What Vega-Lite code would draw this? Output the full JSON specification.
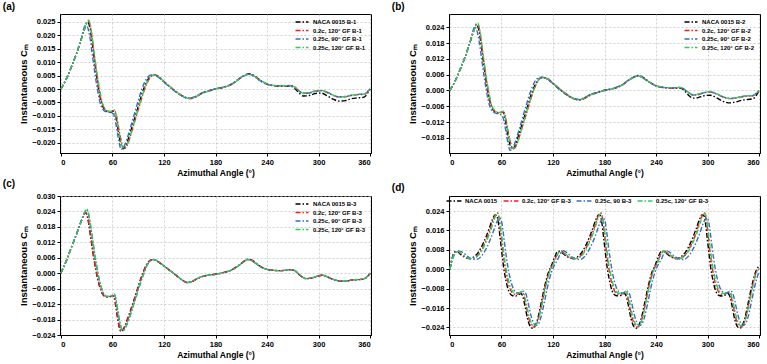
{
"$schema":"https://vega.github.io/schema/vega-lite/v6.json",
"background":"white",
"padding":{"left":2,"top":1,"right":0,"bottom":0},
"config":{
 "font":"Liberation Sans",
 "view":{"stroke":"#000","strokeWidth":1},
 "axis":{"labelFont":"Liberation Sans","labelFontSize":7.5,"labelFontWeight":"bold","labelColor":"#000","titleFont":"Liberation Sans","titleFontSize":8.5,"titleFontWeight":"bold","titleColor":"#000","domainColor":"#000","tickColor":"#000","tickSize":3,"gridColor":"#bdbdbd","gridDash":[2,2],"gridWidth":0.7,"labelPadding":2,"titlePadding":3},
 "axisY":{"titleFontSize":9.5,"titlePadding":3},
 "title":{"anchor":"start","frame":"bounds","fontSize":10,"fontWeight":"bold","color":"#000","font":"Liberation Sans"},
 "line":{"strokeWidth":1.4,"strokeDash":[5,2,1.5,2],"interpolate":"monotone","clip":true},
 "legend":{"title":null,"padding":0,"symbolType":"M-2,0H2","symbolSize":42,"symbolStrokeWidth":1.5,"symbolDash":[4,1.5,1.5,1.5],"labelFont":"Liberation Sans","labelFontSize":6,"labelFontWeight":"bold","labelColor":"#000","labelOffset":7,"rowPadding":1.5}
},
"datasets":{
"a":[
{"s":"k","x":0,"y":0},{"s":"k","x":6,"y":0.0035},{"s":"k","x":12,"y":0.008},{"s":"k","x":18,"y":0.013},{"s":"k","x":24,"y":0.0188},{"s":"k","x":28,"y":0.0228},{"s":"k","x":31,"y":0.025},{"s":"k","x":34,"y":0.0225},{"s":"k","x":37,"y":0.0158},{"s":"k","x":40,"y":0.0086},{"s":"k","x":43,"y":0.0018},{"s":"k","x":46,"y":-0.0035},{"s":"k","x":50,"y":-0.0072},{"s":"k","x":54,"y":-0.0084},{"s":"k","x":58,"y":-0.0086},{"s":"k","x":61,"y":-0.0082},{"s":"k","x":63,"y":-0.0088},{"s":"k","x":65,"y":-0.012},{"s":"k","x":68,"y":-0.0178},{"s":"k","x":71,"y":-0.0215},{"s":"k","x":73,"y":-0.0222},{"s":"k","x":76,"y":-0.0208},{"s":"k","x":80,"y":-0.017},{"s":"k","x":85,"y":-0.0118},{"s":"k","x":90,"y":-0.0066},{"s":"k","x":95,"y":-0.0012},{"s":"k","x":100,"y":0.0028},{"s":"k","x":104,"y":0.0047},{"s":"k","x":108,"y":0.0053},{"s":"k","x":113,"y":0.0047},{"s":"k","x":120,"y":0.0027},{"s":"k","x":128,"y":0.0005},{"s":"k","x":136,"y":-0.0015},{"s":"k","x":144,"y":-0.003},{"s":"k","x":150,"y":-0.0035},{"s":"k","x":156,"y":-0.003},{"s":"k","x":163,"y":-0.0017},{"s":"k","x":172,"y":-0.0007},{"s":"k","x":180,"y":0},{"s":"k","x":190,"y":0.0007},{"s":"k","x":200,"y":0.002},{"s":"k","x":208,"y":0.0039},{"s":"k","x":214,"y":0.0051},{"s":"k","x":219,"y":0.0057},{"s":"k","x":224,"y":0.0052},{"s":"k","x":231,"y":0.0035},{"s":"k","x":240,"y":0.0018},{"s":"k","x":250,"y":0.0012},{"s":"k","x":260,"y":0.001},{"s":"k","x":267,"y":0.0011},{"s":"k","x":272,"y":0.0003},{"s":"k","x":277,"y":-0.0014},{"s":"k","x":282,"y":-0.0026},{"s":"k","x":288,"y":-0.0025},{"s":"k","x":296,"y":-0.0017},{"s":"k","x":303,"y":-0.0015},{"s":"k","x":310,"y":-0.0025},{"s":"k","x":317,"y":-0.0038},{"s":"k","x":324,"y":-0.0045},{"s":"k","x":331,"y":-0.0043},{"s":"k","x":338,"y":-0.0036},{"s":"k","x":346,"y":-0.0033},{"s":"k","x":353,"y":-0.003},{"s":"k","x":357,"y":-0.0016},{"s":"k","x":360,"y":0},
{"s":"r","x":0,"y":0},{"s":"r","x":6,"y":0.0035},{"s":"r","x":12,"y":0.008},{"s":"r","x":18,"y":0.013},{"s":"r","x":24,"y":0.0188},{"s":"r","x":28,"y":0.0228},{"s":"r","x":31,"y":0.0252},{"s":"r","x":33,"y":0.0248},{"s":"r","x":35,"y":0.022},{"s":"r","x":38,"y":0.0148},{"s":"r","x":41,"y":0.0075},{"s":"r","x":44,"y":0.0008},{"s":"r","x":47,"y":-0.0042},{"s":"r","x":50,"y":-0.0068},{"s":"r","x":54,"y":-0.0082},{"s":"r","x":58,"y":-0.0084},{"s":"r","x":61,"y":-0.0081},{"s":"r","x":63,"y":-0.0082},{"s":"r","x":65,"y":-0.0105},{"s":"r","x":68,"y":-0.0158},{"s":"r","x":71,"y":-0.0202},{"s":"r","x":73,"y":-0.0219},{"s":"r","x":75,"y":-0.022},{"s":"r","x":78,"y":-0.0203},{"s":"r","x":82,"y":-0.0163},{"s":"r","x":86,"y":-0.012},{"s":"r","x":90,"y":-0.0078},{"s":"r","x":95,"y":-0.0024},{"s":"r","x":100,"y":0.002},{"s":"r","x":104,"y":0.0043},{"s":"r","x":108,"y":0.0052},{"s":"r","x":113,"y":0.0048},{"s":"r","x":120,"y":0.0028},{"s":"r","x":128,"y":0.0006},{"s":"r","x":136,"y":-0.0014},{"s":"r","x":144,"y":-0.003},{"s":"r","x":150,"y":-0.0036},{"s":"r","x":156,"y":-0.0032},{"s":"r","x":163,"y":-0.0019},{"s":"r","x":172,"y":-0.0008},{"s":"r","x":180,"y":0},{"s":"r","x":190,"y":0.0007},{"s":"r","x":200,"y":0.0019},{"s":"r","x":208,"y":0.0038},{"s":"r","x":214,"y":0.005},{"s":"r","x":219,"y":0.0055},{"s":"r","x":224,"y":0.005},{"s":"r","x":231,"y":0.0034},{"s":"r","x":240,"y":0.0018},{"s":"r","x":250,"y":0.0012},{"s":"r","x":260,"y":0.0011},{"s":"r","x":267,"y":0.0013},{"s":"r","x":272,"y":0.0007},{"s":"r","x":277,"y":-0.0006},{"s":"r","x":282,"y":-0.0016},{"s":"r","x":288,"y":-0.0015},{"s":"r","x":296,"y":-0.0008},{"s":"r","x":303,"y":-0.0006},{"s":"r","x":310,"y":-0.0013},{"s":"r","x":317,"y":-0.0024},{"s":"r","x":324,"y":-0.003},{"s":"r","x":331,"y":-0.0029},{"s":"r","x":338,"y":-0.0024},{"s":"r","x":346,"y":-0.0021},{"s":"r","x":353,"y":-0.002},{"s":"r","x":357,"y":-0.001},{"s":"r","x":360,"y":0},
{"s":"b","x":0,"y":0},{"s":"b","x":6,"y":0.0035},{"s":"b","x":12,"y":0.008},{"s":"b","x":18,"y":0.013},{"s":"b","x":24,"y":0.019},{"s":"b","x":27,"y":0.0228},{"s":"b","x":29,"y":0.0243},{"s":"b","x":31,"y":0.0232},{"s":"b","x":34,"y":0.0188},{"s":"b","x":37,"y":0.0118},{"s":"b","x":40,"y":0.005},{"s":"b","x":43,"y":-0.001},{"s":"b","x":46,"y":-0.0055},{"s":"b","x":50,"y":-0.008},{"s":"b","x":54,"y":-0.0086},{"s":"b","x":58,"y":-0.0088},{"s":"b","x":61,"y":-0.0092},{"s":"b","x":63,"y":-0.0112},{"s":"b","x":65,"y":-0.0148},{"s":"b","x":68,"y":-0.0202},{"s":"b","x":70,"y":-0.0224},{"s":"b","x":72,"y":-0.0222},{"s":"b","x":75,"y":-0.0203},{"s":"b","x":79,"y":-0.0165},{"s":"b","x":84,"y":-0.011},{"s":"b","x":89,"y":-0.0055},{"s":"b","x":94,"y":-0.0003},{"s":"b","x":99,"y":0.0035},{"s":"b","x":103,"y":0.005},{"s":"b","x":107,"y":0.0053},{"s":"b","x":112,"y":0.0047},{"s":"b","x":120,"y":0.0026},{"s":"b","x":128,"y":0.0004},{"s":"b","x":136,"y":-0.0016},{"s":"b","x":144,"y":-0.0031},{"s":"b","x":150,"y":-0.0034},{"s":"b","x":156,"y":-0.0028},{"s":"b","x":163,"y":-0.0016},{"s":"b","x":172,"y":-0.0007},{"s":"b","x":180,"y":0.0001},{"s":"b","x":190,"y":0.0008},{"s":"b","x":200,"y":0.0021},{"s":"b","x":208,"y":0.004},{"s":"b","x":214,"y":0.0051},{"s":"b","x":219,"y":0.0055},{"s":"b","x":224,"y":0.0049},{"s":"b","x":231,"y":0.0033},{"s":"b","x":240,"y":0.0017},{"s":"b","x":250,"y":0.0012},{"s":"b","x":260,"y":0.0011},{"s":"b","x":267,"y":0.0012},{"s":"b","x":272,"y":0.0006},{"s":"b","x":277,"y":-0.0007},{"s":"b","x":282,"y":-0.0017},{"s":"b","x":288,"y":-0.0016},{"s":"b","x":296,"y":-0.0009},{"s":"b","x":303,"y":-0.0006},{"s":"b","x":310,"y":-0.0012},{"s":"b","x":317,"y":-0.0023},{"s":"b","x":324,"y":-0.0029},{"s":"b","x":331,"y":-0.0028},{"s":"b","x":338,"y":-0.0023},{"s":"b","x":346,"y":-0.002},{"s":"b","x":353,"y":-0.0019},{"s":"b","x":357,"y":-0.0009},{"s":"b","x":360,"y":0},
{"s":"g","x":0,"y":0},{"s":"g","x":6,"y":0.0035},{"s":"g","x":12,"y":0.008},{"s":"g","x":18,"y":0.013},{"s":"g","x":24,"y":0.0188},{"s":"g","x":28,"y":0.0228},{"s":"g","x":31,"y":0.0253},{"s":"g","x":32.5,"y":0.0256},{"s":"g","x":34,"y":0.0243},{"s":"g","x":36,"y":0.0205},{"s":"g","x":39,"y":0.013},{"s":"g","x":42,"y":0.006},{"s":"g","x":45,"y":0.0002},{"s":"g","x":48,"y":-0.0048},{"s":"g","x":51,"y":-0.0072},{"s":"g","x":54,"y":-0.0081},{"s":"g","x":58,"y":-0.0083},{"s":"g","x":61,"y":-0.008},{"s":"g","x":62.5,"y":-0.0078},{"s":"g","x":64,"y":-0.0092},{"s":"g","x":66,"y":-0.0128},{"s":"g","x":69,"y":-0.0182},{"s":"g","x":71,"y":-0.021},{"s":"g","x":73,"y":-0.022},{"s":"g","x":75,"y":-0.0218},{"s":"g","x":78,"y":-0.0202},{"s":"g","x":82,"y":-0.0162},{"s":"g","x":86,"y":-0.0118},{"s":"g","x":90,"y":-0.0075},{"s":"g","x":95,"y":-0.0022},{"s":"g","x":100,"y":0.0021},{"s":"g","x":104,"y":0.0044},{"s":"g","x":108,"y":0.0052},{"s":"g","x":113,"y":0.0048},{"s":"g","x":120,"y":0.0028},{"s":"g","x":128,"y":0.0006},{"s":"g","x":136,"y":-0.0014},{"s":"g","x":144,"y":-0.003},{"s":"g","x":150,"y":-0.0035},{"s":"g","x":156,"y":-0.0031},{"s":"g","x":163,"y":-0.0018},{"s":"g","x":172,"y":-0.0008},{"s":"g","x":180,"y":0},{"s":"g","x":190,"y":0.0007},{"s":"g","x":200,"y":0.0019},{"s":"g","x":208,"y":0.0038},{"s":"g","x":214,"y":0.005},{"s":"g","x":219,"y":0.0055},{"s":"g","x":224,"y":0.005},{"s":"g","x":231,"y":0.0035},{"s":"g","x":240,"y":0.0019},{"s":"g","x":250,"y":0.0013},{"s":"g","x":260,"y":0.0012},{"s":"g","x":267,"y":0.0013},{"s":"g","x":272,"y":0.0008},{"s":"g","x":277,"y":-0.0005},{"s":"g","x":282,"y":-0.0015},{"s":"g","x":288,"y":-0.0014},{"s":"g","x":296,"y":-0.0007},{"s":"g","x":303,"y":-0.0005},{"s":"g","x":310,"y":-0.0012},{"s":"g","x":317,"y":-0.0023},{"s":"g","x":324,"y":-0.0029},{"s":"g","x":331,"y":-0.0028},{"s":"g","x":338,"y":-0.0023},{"s":"g","x":346,"y":-0.002},{"s":"g","x":353,"y":-0.0019},{"s":"g","x":357,"y":-0.0009},{"s":"g","x":360,"y":0}
],
"b":[
{"s":"k","x":0,"y":0},{"s":"k","x":6,"y":0.0035},{"s":"k","x":12,"y":0.008},{"s":"k","x":18,"y":0.013},{"s":"k","x":24,"y":0.0188},{"s":"k","x":28,"y":0.0228},{"s":"k","x":31,"y":0.0251},{"s":"k","x":34,"y":0.0225},{"s":"k","x":37,"y":0.0158},{"s":"k","x":40,"y":0.0086},{"s":"k","x":43,"y":0.0018},{"s":"k","x":46,"y":-0.0035},{"s":"k","x":50,"y":-0.0072},{"s":"k","x":54,"y":-0.0084},{"s":"k","x":58,"y":-0.0086},{"s":"k","x":61,"y":-0.0082},{"s":"k","x":63,"y":-0.0088},{"s":"k","x":65,"y":-0.012},{"s":"k","x":68,"y":-0.0178},{"s":"k","x":71,"y":-0.0215},{"s":"k","x":73,"y":-0.0223},{"s":"k","x":76,"y":-0.0208},{"s":"k","x":80,"y":-0.017},{"s":"k","x":85,"y":-0.0118},{"s":"k","x":90,"y":-0.0066},{"s":"k","x":95,"y":-0.0012},{"s":"k","x":100,"y":0.0026},{"s":"k","x":104,"y":0.0044},{"s":"k","x":108,"y":0.0049},{"s":"k","x":113,"y":0.0045},{"s":"k","x":120,"y":0.0026},{"s":"k","x":128,"y":0.0004},{"s":"k","x":136,"y":-0.0016},{"s":"k","x":144,"y":-0.0031},{"s":"k","x":150,"y":-0.0035},{"s":"k","x":156,"y":-0.003},{"s":"k","x":163,"y":-0.0017},{"s":"k","x":172,"y":-0.0007},{"s":"k","x":180,"y":0.0001},{"s":"k","x":190,"y":0.0007},{"s":"k","x":200,"y":0.002},{"s":"k","x":208,"y":0.0039},{"s":"k","x":214,"y":0.0051},{"s":"k","x":219,"y":0.0057},{"s":"k","x":224,"y":0.0052},{"s":"k","x":231,"y":0.0035},{"s":"k","x":240,"y":0.0018},{"s":"k","x":250,"y":0.0011},{"s":"k","x":260,"y":0.0008},{"s":"k","x":267,"y":0.0009},{"s":"k","x":272,"y":0.0003},{"s":"k","x":277,"y":-0.0015},{"s":"k","x":283,"y":-0.0029},{"s":"k","x":289,"y":-0.0027},{"s":"k","x":296,"y":-0.002},{"s":"k","x":303,"y":-0.0018},{"s":"k","x":310,"y":-0.0027},{"s":"k","x":318,"y":-0.0041},{"s":"k","x":326,"y":-0.0047},{"s":"k","x":333,"y":-0.0043},{"s":"k","x":340,"y":-0.0037},{"s":"k","x":347,"y":-0.0034},{"s":"k","x":353,"y":-0.0031},{"s":"k","x":357,"y":-0.0017},{"s":"k","x":360,"y":0},
{"s":"r","x":0,"y":0},{"s":"r","x":6,"y":0.0035},{"s":"r","x":12,"y":0.008},{"s":"r","x":18,"y":0.013},{"s":"r","x":24,"y":0.0188},{"s":"r","x":28,"y":0.0228},{"s":"r","x":31,"y":0.0252},{"s":"r","x":33,"y":0.0248},{"s":"r","x":35,"y":0.022},{"s":"r","x":38,"y":0.0148},{"s":"r","x":41,"y":0.0075},{"s":"r","x":44,"y":0.0008},{"s":"r","x":47,"y":-0.0042},{"s":"r","x":50,"y":-0.0068},{"s":"r","x":54,"y":-0.0082},{"s":"r","x":58,"y":-0.0084},{"s":"r","x":61,"y":-0.0081},{"s":"r","x":63,"y":-0.0082},{"s":"r","x":65,"y":-0.0105},{"s":"r","x":68,"y":-0.0158},{"s":"r","x":71,"y":-0.0202},{"s":"r","x":73,"y":-0.0219},{"s":"r","x":75,"y":-0.022},{"s":"r","x":78,"y":-0.0203},{"s":"r","x":82,"y":-0.0163},{"s":"r","x":86,"y":-0.012},{"s":"r","x":90,"y":-0.0078},{"s":"r","x":95,"y":-0.0024},{"s":"r","x":100,"y":0.002},{"s":"r","x":104,"y":0.0043},{"s":"r","x":108,"y":0.005},{"s":"r","x":113,"y":0.0047},{"s":"r","x":120,"y":0.0028},{"s":"r","x":128,"y":0.0006},{"s":"r","x":136,"y":-0.0014},{"s":"r","x":144,"y":-0.003},{"s":"r","x":150,"y":-0.0036},{"s":"r","x":156,"y":-0.0032},{"s":"r","x":163,"y":-0.0019},{"s":"r","x":172,"y":-0.0008},{"s":"r","x":180,"y":0},{"s":"r","x":190,"y":0.0007},{"s":"r","x":200,"y":0.0019},{"s":"r","x":208,"y":0.0038},{"s":"r","x":214,"y":0.005},{"s":"r","x":219,"y":0.0055},{"s":"r","x":224,"y":0.005},{"s":"r","x":231,"y":0.0034},{"s":"r","x":240,"y":0.0018},{"s":"r","x":250,"y":0.0011},{"s":"r","x":260,"y":0.0009},{"s":"r","x":267,"y":0.0011},{"s":"r","x":272,"y":0.0006},{"s":"r","x":277,"y":-0.0006},{"s":"r","x":283,"y":-0.0017},{"s":"r","x":289,"y":-0.0016},{"s":"r","x":296,"y":-0.0009},{"s":"r","x":303,"y":-0.0006},{"s":"r","x":310,"y":-0.0013},{"s":"r","x":318,"y":-0.0025},{"s":"r","x":326,"y":-0.0031},{"s":"r","x":333,"y":-0.0029},{"s":"r","x":340,"y":-0.0024},{"s":"r","x":347,"y":-0.0021},{"s":"r","x":353,"y":-0.002},{"s":"r","x":357,"y":-0.001},{"s":"r","x":360,"y":0},
{"s":"b","x":0,"y":0},{"s":"b","x":6,"y":0.0035},{"s":"b","x":12,"y":0.008},{"s":"b","x":18,"y":0.013},{"s":"b","x":24,"y":0.019},{"s":"b","x":27,"y":0.0228},{"s":"b","x":29,"y":0.0243},{"s":"b","x":31,"y":0.0232},{"s":"b","x":34,"y":0.0188},{"s":"b","x":37,"y":0.0118},{"s":"b","x":40,"y":0.005},{"s":"b","x":43,"y":-0.001},{"s":"b","x":46,"y":-0.0055},{"s":"b","x":50,"y":-0.008},{"s":"b","x":54,"y":-0.0087},{"s":"b","x":58,"y":-0.009},{"s":"b","x":61,"y":-0.0095},{"s":"b","x":63,"y":-0.0115},{"s":"b","x":65,"y":-0.015},{"s":"b","x":68,"y":-0.0205},{"s":"b","x":70,"y":-0.0227},{"s":"b","x":72,"y":-0.0225},{"s":"b","x":75,"y":-0.0205},{"s":"b","x":79,"y":-0.0166},{"s":"b","x":84,"y":-0.011},{"s":"b","x":89,"y":-0.0055},{"s":"b","x":94,"y":-0.0003},{"s":"b","x":99,"y":0.0035},{"s":"b","x":103,"y":0.0048},{"s":"b","x":107,"y":0.005},{"s":"b","x":112,"y":0.0045},{"s":"b","x":120,"y":0.0026},{"s":"b","x":128,"y":0.0004},{"s":"b","x":136,"y":-0.0016},{"s":"b","x":144,"y":-0.0031},{"s":"b","x":150,"y":-0.0034},{"s":"b","x":156,"y":-0.0028},{"s":"b","x":163,"y":-0.0016},{"s":"b","x":172,"y":-0.0007},{"s":"b","x":180,"y":0.0001},{"s":"b","x":190,"y":0.0008},{"s":"b","x":200,"y":0.0021},{"s":"b","x":208,"y":0.004},{"s":"b","x":214,"y":0.0051},{"s":"b","x":219,"y":0.0055},{"s":"b","x":224,"y":0.0049},{"s":"b","x":231,"y":0.0033},{"s":"b","x":240,"y":0.0017},{"s":"b","x":250,"y":0.0011},{"s":"b","x":260,"y":0.001},{"s":"b","x":267,"y":0.0011},{"s":"b","x":272,"y":0.0006},{"s":"b","x":277,"y":-0.0007},{"s":"b","x":283,"y":-0.0017},{"s":"b","x":289,"y":-0.0015},{"s":"b","x":296,"y":-0.0008},{"s":"b","x":303,"y":-0.0005},{"s":"b","x":310,"y":-0.0012},{"s":"b","x":318,"y":-0.0024},{"s":"b","x":326,"y":-0.003},{"s":"b","x":333,"y":-0.0028},{"s":"b","x":340,"y":-0.0023},{"s":"b","x":347,"y":-0.002},{"s":"b","x":353,"y":-0.0019},{"s":"b","x":357,"y":-0.0009},{"s":"b","x":360,"y":0},
{"s":"g","x":0,"y":0},{"s":"g","x":6,"y":0.0035},{"s":"g","x":12,"y":0.008},{"s":"g","x":18,"y":0.013},{"s":"g","x":24,"y":0.0188},{"s":"g","x":28,"y":0.0228},{"s":"g","x":31,"y":0.0253},{"s":"g","x":32.5,"y":0.0256},{"s":"g","x":34,"y":0.0243},{"s":"g","x":36,"y":0.0205},{"s":"g","x":39,"y":0.013},{"s":"g","x":42,"y":0.006},{"s":"g","x":45,"y":0.0002},{"s":"g","x":48,"y":-0.0048},{"s":"g","x":51,"y":-0.0072},{"s":"g","x":54,"y":-0.0081},{"s":"g","x":58,"y":-0.0083},{"s":"g","x":61,"y":-0.008},{"s":"g","x":62.5,"y":-0.0078},{"s":"g","x":64,"y":-0.0092},{"s":"g","x":66,"y":-0.0128},{"s":"g","x":69,"y":-0.0182},{"s":"g","x":71,"y":-0.021},{"s":"g","x":73,"y":-0.022},{"s":"g","x":75,"y":-0.0218},{"s":"g","x":78,"y":-0.0202},{"s":"g","x":82,"y":-0.0162},{"s":"g","x":86,"y":-0.0118},{"s":"g","x":90,"y":-0.0075},{"s":"g","x":95,"y":-0.0022},{"s":"g","x":100,"y":0.0021},{"s":"g","x":104,"y":0.0043},{"s":"g","x":108,"y":0.005},{"s":"g","x":113,"y":0.0046},{"s":"g","x":120,"y":0.0028},{"s":"g","x":128,"y":0.0006},{"s":"g","x":136,"y":-0.0014},{"s":"g","x":144,"y":-0.003},{"s":"g","x":150,"y":-0.0035},{"s":"g","x":156,"y":-0.0031},{"s":"g","x":163,"y":-0.0018},{"s":"g","x":172,"y":-0.0008},{"s":"g","x":180,"y":0},{"s":"g","x":190,"y":0.0007},{"s":"g","x":200,"y":0.0019},{"s":"g","x":208,"y":0.0038},{"s":"g","x":214,"y":0.005},{"s":"g","x":219,"y":0.0055},{"s":"g","x":224,"y":0.005},{"s":"g","x":231,"y":0.0035},{"s":"g","x":240,"y":0.0019},{"s":"g","x":250,"y":0.0012},{"s":"g","x":260,"y":0.001},{"s":"g","x":267,"y":0.0012},{"s":"g","x":272,"y":0.0008},{"s":"g","x":277,"y":-0.0005},{"s":"g","x":283,"y":-0.0016},{"s":"g","x":289,"y":-0.0014},{"s":"g","x":296,"y":-0.0007},{"s":"g","x":303,"y":-0.0004},{"s":"g","x":310,"y":-0.0011},{"s":"g","x":318,"y":-0.0024},{"s":"g","x":326,"y":-0.003},{"s":"g","x":333,"y":-0.0028},{"s":"g","x":340,"y":-0.0023},{"s":"g","x":347,"y":-0.002},{"s":"g","x":353,"y":-0.0019},{"s":"g","x":357,"y":-0.0009},{"s":"g","x":360,"y":0}
],
"c":[
{"s":"k","x":0,"y":0},{"s":"k","x":6,"y":0.0045},{"s":"k","x":12,"y":0.0098},{"s":"k","x":18,"y":0.015},{"s":"k","x":24,"y":0.0205},{"s":"k","x":27,"y":0.023},{"s":"k","x":29,"y":0.0235},{"s":"k","x":31,"y":0.0218},{"s":"k","x":33,"y":0.018},{"s":"k","x":36,"y":0.011},{"s":"k","x":39,"y":0.0045},{"s":"k","x":42,"y":-0.001},{"s":"k","x":45,"y":-0.005},{"s":"k","x":48,"y":-0.0078},{"s":"k","x":51,"y":-0.009},{"s":"k","x":55,"y":-0.0093},{"s":"k","x":58,"y":-0.009},{"s":"k","x":60,"y":-0.0086},{"s":"k","x":62,"y":-0.0095},{"s":"k","x":64,"y":-0.013},{"s":"k","x":66,"y":-0.0175},{"s":"k","x":68,"y":-0.021},{"s":"k","x":70,"y":-0.0226},{"s":"k","x":72,"y":-0.0222},{"s":"k","x":75,"y":-0.02},{"s":"k","x":80,"y":-0.0155},{"s":"k","x":85,"y":-0.0105},{"s":"k","x":90,"y":-0.0052},{"s":"k","x":95,"y":-0.0003},{"s":"k","x":100,"y":0.0035},{"s":"k","x":104,"y":0.005},{"s":"k","x":107,"y":0.0053},{"s":"k","x":112,"y":0.0047},{"s":"k","x":120,"y":0.0028},{"s":"k","x":128,"y":0.0008},{"s":"k","x":136,"y":-0.0013},{"s":"k","x":142,"y":-0.0028},{"s":"k","x":147,"y":-0.0036},{"s":"k","x":152,"y":-0.0033},{"s":"k","x":158,"y":-0.0022},{"s":"k","x":165,"y":-0.0012},{"s":"k","x":172,"y":-0.0007},{"s":"k","x":180,"y":-0.0004},{"s":"k","x":190,"y":0.0003},{"s":"k","x":200,"y":0.0015},{"s":"k","x":208,"y":0.0033},{"s":"k","x":213,"y":0.0046},{"s":"k","x":217,"y":0.0054},{"s":"k","x":221,"y":0.0053},{"s":"k","x":226,"y":0.0042},{"s":"k","x":232,"y":0.0027},{"s":"k","x":240,"y":0.0015},{"s":"k","x":248,"y":0.0011},{"s":"k","x":256,"y":0.001},{"s":"k","x":262,"y":0.0012},{"s":"k","x":268,"y":0.0014},{"s":"k","x":273,"y":0.0008},{"s":"k","x":279,"y":-0.001},{"s":"k","x":285,"y":-0.0021},{"s":"k","x":292,"y":-0.0019},{"s":"k","x":298,"y":-0.0012},{"s":"k","x":304,"y":-0.0008},{"s":"k","x":310,"y":-0.0014},{"s":"k","x":317,"y":-0.0024},{"s":"k","x":324,"y":-0.003},{"s":"k","x":331,"y":-0.0031},{"s":"k","x":338,"y":-0.0027},{"s":"k","x":345,"y":-0.0025},{"s":"k","x":350,"y":-0.0024},{"s":"k","x":355,"y":-0.0018},{"s":"k","x":360,"y":0},
{"s":"r","x":0,"y":0},{"s":"r","x":6,"y":0.0045},{"s":"r","x":12,"y":0.0098},{"s":"r","x":18,"y":0.015},{"s":"r","x":24,"y":0.0205},{"s":"r","x":27,"y":0.0228},{"s":"r","x":29,"y":0.0236},{"s":"r","x":31,"y":0.0222},{"s":"r","x":33,"y":0.0186},{"s":"r","x":36,"y":0.0118},{"s":"r","x":39,"y":0.005},{"s":"r","x":42,"y":-0.0006},{"s":"r","x":45,"y":-0.0047},{"s":"r","x":48,"y":-0.0076},{"s":"r","x":51,"y":-0.0089},{"s":"r","x":55,"y":-0.0092},{"s":"r","x":58,"y":-0.009},{"s":"r","x":60,"y":-0.0087},{"s":"r","x":62,"y":-0.009},{"s":"r","x":64,"y":-0.0122},{"s":"r","x":66,"y":-0.0168},{"s":"r","x":68,"y":-0.0205},{"s":"r","x":70,"y":-0.0224},{"s":"r","x":72,"y":-0.0224},{"s":"r","x":75,"y":-0.0203},{"s":"r","x":80,"y":-0.016},{"s":"r","x":85,"y":-0.011},{"s":"r","x":90,"y":-0.0056},{"s":"r","x":95,"y":-0.0006},{"s":"r","x":100,"y":0.0033},{"s":"r","x":104,"y":0.0049},{"s":"r","x":107,"y":0.0053},{"s":"r","x":112,"y":0.0047},{"s":"r","x":120,"y":0.0028},{"s":"r","x":128,"y":0.0007},{"s":"r","x":136,"y":-0.0014},{"s":"r","x":142,"y":-0.0029},{"s":"r","x":147,"y":-0.0037},{"s":"r","x":152,"y":-0.0034},{"s":"r","x":158,"y":-0.0023},{"s":"r","x":165,"y":-0.0013},{"s":"r","x":172,"y":-0.0008},{"s":"r","x":180,"y":-0.0004},{"s":"r","x":190,"y":0.0003},{"s":"r","x":200,"y":0.0015},{"s":"r","x":208,"y":0.0032},{"s":"r","x":213,"y":0.0045},{"s":"r","x":217,"y":0.0053},{"s":"r","x":221,"y":0.0051},{"s":"r","x":226,"y":0.004},{"s":"r","x":232,"y":0.0026},{"s":"r","x":240,"y":0.0015},{"s":"r","x":248,"y":0.0011},{"s":"r","x":256,"y":0.001},{"s":"r","x":262,"y":0.0012},{"s":"r","x":268,"y":0.0014},{"s":"r","x":273,"y":0.0008},{"s":"r","x":279,"y":-0.001},{"s":"r","x":285,"y":-0.0021},{"s":"r","x":292,"y":-0.0019},{"s":"r","x":298,"y":-0.0012},{"s":"r","x":304,"y":-0.0008},{"s":"r","x":310,"y":-0.0014},{"s":"r","x":317,"y":-0.0024},{"s":"r","x":324,"y":-0.003},{"s":"r","x":331,"y":-0.0031},{"s":"r","x":338,"y":-0.0027},{"s":"r","x":345,"y":-0.0025},{"s":"r","x":350,"y":-0.0024},{"s":"r","x":355,"y":-0.0018},{"s":"r","x":360,"y":0},
{"s":"b","x":0,"y":0},{"s":"b","x":6,"y":0.0045},{"s":"b","x":12,"y":0.0098},{"s":"b","x":18,"y":0.015},{"s":"b","x":24,"y":0.0205},{"s":"b","x":28,"y":0.0238},{"s":"b","x":30,"y":0.0248},{"s":"b","x":32,"y":0.0232},{"s":"b","x":35,"y":0.0175},{"s":"b","x":38,"y":0.0105},{"s":"b","x":41,"y":0.004},{"s":"b","x":44,"y":-0.0015},{"s":"b","x":47,"y":-0.0055},{"s":"b","x":50,"y":-0.008},{"s":"b","x":53,"y":-0.009},{"s":"b","x":57,"y":-0.009},{"s":"b","x":60,"y":-0.0086},{"s":"b","x":62,"y":-0.0082},{"s":"b","x":64,"y":-0.01},{"s":"b","x":66,"y":-0.014},{"s":"b","x":68,"y":-0.018},{"s":"b","x":70,"y":-0.021},{"s":"b","x":72,"y":-0.0223},{"s":"b","x":74,"y":-0.0218},{"s":"b","x":77,"y":-0.0198},{"s":"b","x":82,"y":-0.015},{"s":"b","x":87,"y":-0.0098},{"s":"b","x":92,"y":-0.0045},{"s":"b","x":97,"y":0.0003},{"s":"b","x":101,"y":0.0035},{"s":"b","x":105,"y":0.005},{"s":"b","x":108,"y":0.0053},{"s":"b","x":113,"y":0.0047},{"s":"b","x":120,"y":0.0028},{"s":"b","x":128,"y":0.0008},{"s":"b","x":136,"y":-0.0013},{"s":"b","x":142,"y":-0.0028},{"s":"b","x":147,"y":-0.0036},{"s":"b","x":152,"y":-0.0033},{"s":"b","x":158,"y":-0.0022},{"s":"b","x":165,"y":-0.0012},{"s":"b","x":172,"y":-0.0007},{"s":"b","x":180,"y":-0.0004},{"s":"b","x":190,"y":0.0003},{"s":"b","x":200,"y":0.0015},{"s":"b","x":208,"y":0.0032},{"s":"b","x":213,"y":0.0045},{"s":"b","x":217,"y":0.0053},{"s":"b","x":221,"y":0.0051},{"s":"b","x":226,"y":0.004},{"s":"b","x":232,"y":0.0026},{"s":"b","x":240,"y":0.0015},{"s":"b","x":248,"y":0.0011},{"s":"b","x":256,"y":0.001},{"s":"b","x":262,"y":0.0012},{"s":"b","x":268,"y":0.0014},{"s":"b","x":273,"y":0.0008},{"s":"b","x":279,"y":-0.001},{"s":"b","x":285,"y":-0.0021},{"s":"b","x":292,"y":-0.0019},{"s":"b","x":298,"y":-0.0012},{"s":"b","x":304,"y":-0.0008},{"s":"b","x":310,"y":-0.0014},{"s":"b","x":317,"y":-0.0024},{"s":"b","x":324,"y":-0.003},{"s":"b","x":331,"y":-0.0031},{"s":"b","x":338,"y":-0.0027},{"s":"b","x":345,"y":-0.0025},{"s":"b","x":350,"y":-0.0024},{"s":"b","x":355,"y":-0.0018},{"s":"b","x":360,"y":0},
{"s":"g","x":0,"y":0},{"s":"g","x":6,"y":0.0045},{"s":"g","x":12,"y":0.0098},{"s":"g","x":18,"y":0.015},{"s":"g","x":24,"y":0.0205},{"s":"g","x":28,"y":0.0239},{"s":"g","x":30,"y":0.025},{"s":"g","x":32,"y":0.0235},{"s":"g","x":35,"y":0.0178},{"s":"g","x":38,"y":0.0108},{"s":"g","x":41,"y":0.0042},{"s":"g","x":44,"y":-0.0013},{"s":"g","x":47,"y":-0.0053},{"s":"g","x":50,"y":-0.0079},{"s":"g","x":53,"y":-0.0089},{"s":"g","x":57,"y":-0.009},{"s":"g","x":60,"y":-0.0085},{"s":"g","x":62,"y":-0.0081},{"s":"g","x":64,"y":-0.0098},{"s":"g","x":66,"y":-0.0138},{"s":"g","x":68,"y":-0.0178},{"s":"g","x":70,"y":-0.0208},{"s":"g","x":72,"y":-0.0222},{"s":"g","x":74,"y":-0.0218},{"s":"g","x":77,"y":-0.0198},{"s":"g","x":82,"y":-0.015},{"s":"g","x":87,"y":-0.0098},{"s":"g","x":92,"y":-0.0045},{"s":"g","x":97,"y":0.0003},{"s":"g","x":101,"y":0.0035},{"s":"g","x":105,"y":0.005},{"s":"g","x":108,"y":0.0053},{"s":"g","x":113,"y":0.0047},{"s":"g","x":120,"y":0.0028},{"s":"g","x":128,"y":0.0008},{"s":"g","x":136,"y":-0.0013},{"s":"g","x":142,"y":-0.0028},{"s":"g","x":147,"y":-0.0036},{"s":"g","x":152,"y":-0.0033},{"s":"g","x":158,"y":-0.0022},{"s":"g","x":165,"y":-0.0012},{"s":"g","x":172,"y":-0.0007},{"s":"g","x":180,"y":-0.0004},{"s":"g","x":190,"y":0.0003},{"s":"g","x":200,"y":0.0015},{"s":"g","x":208,"y":0.0032},{"s":"g","x":213,"y":0.0045},{"s":"g","x":217,"y":0.0053},{"s":"g","x":221,"y":0.0051},{"s":"g","x":226,"y":0.004},{"s":"g","x":232,"y":0.0026},{"s":"g","x":240,"y":0.0015},{"s":"g","x":248,"y":0.0011},{"s":"g","x":256,"y":0.001},{"s":"g","x":262,"y":0.0012},{"s":"g","x":268,"y":0.0014},{"s":"g","x":273,"y":0.0009},{"s":"g","x":279,"y":-0.0009},{"s":"g","x":285,"y":-0.002},{"s":"g","x":292,"y":-0.0018},{"s":"g","x":298,"y":-0.0011},{"s":"g","x":304,"y":-0.0007},{"s":"g","x":310,"y":-0.0013},{"s":"g","x":317,"y":-0.0023},{"s":"g","x":324,"y":-0.0029},{"s":"g","x":331,"y":-0.003},{"s":"g","x":338,"y":-0.0026},{"s":"g","x":345,"y":-0.0024},{"s":"g","x":350,"y":-0.0023},{"s":"g","x":355,"y":-0.0017},{"s":"g","x":360,"y":0}
],
"d":[
{"s":"k","x":0,"y":0},{"s":"k","x":3,"y":0.005},{"s":"k","x":6,"y":0.0072},{"s":"k","x":9,"y":0.0072},{"s":"k","x":11.5,"y":0.0064},{"s":"k","x":16.5,"y":0.0051},{"s":"k","x":22.5,"y":0.0044},{"s":"k","x":27.5,"y":0.005},{"s":"k","x":33.5,"y":0.0072},{"s":"k","x":39.5,"y":0.0112},{"s":"k","x":45.5,"y":0.0165},{"s":"k","x":49.5,"y":0.0205},{"s":"k","x":52.5,"y":0.0224},{"s":"k","x":54.5,"y":0.0222},{"s":"k","x":56.5,"y":0.019},{"s":"k","x":58.5,"y":0.013},{"s":"k","x":60.5,"y":0.0068},{"s":"k","x":62.5,"y":0.001},{"s":"k","x":65.5,"y":-0.005},{"s":"k","x":68.5,"y":-0.009},{"s":"k","x":72.5,"y":-0.0108},{"s":"k","x":76.5,"y":-0.011},{"s":"k","x":79.5,"y":-0.0106},{"s":"k","x":82.5,"y":-0.01},{"s":"k","x":84.5,"y":-0.0108},{"s":"k","x":87.5,"y":-0.0152},{"s":"k","x":90.5,"y":-0.0205},{"s":"k","x":93.5,"y":-0.0235},{"s":"k","x":96.5,"y":-0.0243},{"s":"k","x":99.5,"y":-0.0232},{"s":"k","x":102.5,"y":-0.02},{"s":"k","x":106.5,"y":-0.0135},{"s":"k","x":110.5,"y":-0.0068},{"s":"k","x":114.5,"y":-0.0015},{"s":"k","x":119,"y":0.0022},
{"s":"k","x":122,"y":0.005},{"s":"k","x":125,"y":0.0072},{"s":"k","x":128,"y":0.0074},{"s":"k","x":132,"y":0.0064},{"s":"k","x":137,"y":0.0051},{"s":"k","x":143,"y":0.0044},{"s":"k","x":148,"y":0.005},{"s":"k","x":154,"y":0.0072},{"s":"k","x":160,"y":0.0112},{"s":"k","x":166,"y":0.0165},{"s":"k","x":170,"y":0.0205},{"s":"k","x":173,"y":0.0224},{"s":"k","x":175,"y":0.0222},{"s":"k","x":177,"y":0.019},{"s":"k","x":179,"y":0.013},{"s":"k","x":181,"y":0.0068},{"s":"k","x":183,"y":0.001},{"s":"k","x":186,"y":-0.005},{"s":"k","x":189,"y":-0.009},{"s":"k","x":193,"y":-0.0108},{"s":"k","x":197,"y":-0.011},{"s":"k","x":200,"y":-0.0106},{"s":"k","x":203,"y":-0.01},{"s":"k","x":205,"y":-0.0108},{"s":"k","x":208,"y":-0.0152},{"s":"k","x":211,"y":-0.0205},{"s":"k","x":214,"y":-0.0235},{"s":"k","x":217,"y":-0.0243},{"s":"k","x":220,"y":-0.0232},{"s":"k","x":223,"y":-0.02},{"s":"k","x":227,"y":-0.0135},{"s":"k","x":231,"y":-0.0068},{"s":"k","x":235,"y":-0.0015},{"s":"k","x":239.5,"y":0.0022},
{"s":"k","x":242.5,"y":0.005},{"s":"k","x":245.5,"y":0.0072},{"s":"k","x":248.5,"y":0.0074},{"s":"k","x":252.5,"y":0.0064},{"s":"k","x":257.5,"y":0.0051},{"s":"k","x":263.5,"y":0.0044},{"s":"k","x":268.5,"y":0.005},{"s":"k","x":274.5,"y":0.0072},{"s":"k","x":280.5,"y":0.0112},{"s":"k","x":286.5,"y":0.0165},{"s":"k","x":290.5,"y":0.0205},{"s":"k","x":293.5,"y":0.0224},{"s":"k","x":295.5,"y":0.0222},{"s":"k","x":297.5,"y":0.019},{"s":"k","x":299.5,"y":0.013},{"s":"k","x":301.5,"y":0.0068},{"s":"k","x":303.5,"y":0.001},{"s":"k","x":306.5,"y":-0.005},{"s":"k","x":309.5,"y":-0.009},{"s":"k","x":313.5,"y":-0.0108},{"s":"k","x":317.5,"y":-0.011},{"s":"k","x":320.5,"y":-0.0106},{"s":"k","x":323.5,"y":-0.01},{"s":"k","x":325.5,"y":-0.0108},{"s":"k","x":328.5,"y":-0.0152},{"s":"k","x":331.5,"y":-0.0205},{"s":"k","x":334.5,"y":-0.0235},{"s":"k","x":337.5,"y":-0.0243},{"s":"k","x":340.5,"y":-0.0232},{"s":"k","x":343.5,"y":-0.02},{"s":"k","x":347.5,"y":-0.0135},{"s":"k","x":351.5,"y":-0.0068},{"s":"k","x":355.5,"y":-0.0015},{"s":"k","x":360,"y":0.0015},
{"s":"r","x":0,"y":0},{"s":"r","x":3,"y":0.0047},{"s":"r","x":6,"y":0.0069},{"s":"r","x":9,"y":0.0075},{"s":"r","x":12.5,"y":0.0065},{"s":"r","x":17.5,"y":0.0052},{"s":"r","x":23.5,"y":0.0043},{"s":"r","x":28.5,"y":0.0047},{"s":"r","x":34.5,"y":0.0067},{"s":"r","x":40.5,"y":0.0106},{"s":"r","x":46.5,"y":0.016},{"s":"r","x":50.5,"y":0.0203},{"s":"r","x":53.5,"y":0.0229},{"s":"r","x":55.5,"y":0.0232},{"s":"r","x":57.5,"y":0.0203},{"s":"r","x":59.5,"y":0.0145},{"s":"r","x":61.5,"y":0.0083},{"s":"r","x":63.5,"y":0.0027},{"s":"r","x":66.5,"y":-0.0035},{"s":"r","x":69.5,"y":-0.0076},{"s":"r","x":73.5,"y":-0.01},{"s":"r","x":77.5,"y":-0.0104},{"s":"r","x":80.5,"y":-0.01},{"s":"r","x":83.5,"y":-0.0094},{"s":"r","x":85.5,"y":-0.0102},{"s":"r","x":88.5,"y":-0.0146},{"s":"r","x":91.5,"y":-0.0198},{"s":"r","x":94.5,"y":-0.0228},{"s":"r","x":97.5,"y":-0.0238},{"s":"r","x":100.5,"y":-0.0229},{"s":"r","x":103.5,"y":-0.0198},{"s":"r","x":107.5,"y":-0.0134},{"s":"r","x":111.5,"y":-0.0066},{"s":"r","x":115.5,"y":-0.0013},{"s":"r","x":120,"y":0.0022},
{"s":"r","x":123,"y":0.0047},{"s":"r","x":126,"y":0.0069},{"s":"r","x":129,"y":0.0075},{"s":"r","x":133,"y":0.0065},{"s":"r","x":138,"y":0.0052},{"s":"r","x":144,"y":0.0043},{"s":"r","x":149,"y":0.0047},{"s":"r","x":155,"y":0.0067},{"s":"r","x":161,"y":0.0106},{"s":"r","x":167,"y":0.016},{"s":"r","x":171,"y":0.0203},{"s":"r","x":174,"y":0.0229},{"s":"r","x":176,"y":0.0232},{"s":"r","x":178,"y":0.0203},{"s":"r","x":180,"y":0.0145},{"s":"r","x":182,"y":0.0083},{"s":"r","x":184,"y":0.0027},{"s":"r","x":187,"y":-0.0035},{"s":"r","x":190,"y":-0.0076},{"s":"r","x":194,"y":-0.01},{"s":"r","x":198,"y":-0.0104},{"s":"r","x":201,"y":-0.01},{"s":"r","x":204,"y":-0.0094},{"s":"r","x":206,"y":-0.0102},{"s":"r","x":209,"y":-0.0146},{"s":"r","x":212,"y":-0.0198},{"s":"r","x":215,"y":-0.0228},{"s":"r","x":218,"y":-0.0238},{"s":"r","x":221,"y":-0.0229},{"s":"r","x":224,"y":-0.0198},{"s":"r","x":228,"y":-0.0134},{"s":"r","x":232,"y":-0.0066},{"s":"r","x":236,"y":-0.0013},{"s":"r","x":240.5,"y":0.0022},
{"s":"r","x":243.5,"y":0.0047},{"s":"r","x":246.5,"y":0.0069},{"s":"r","x":249.5,"y":0.0075},{"s":"r","x":253.5,"y":0.0065},{"s":"r","x":258.5,"y":0.0052},{"s":"r","x":264.5,"y":0.0043},{"s":"r","x":269.5,"y":0.0047},{"s":"r","x":275.5,"y":0.0067},{"s":"r","x":281.5,"y":0.0106},{"s":"r","x":287.5,"y":0.016},{"s":"r","x":291.5,"y":0.0203},{"s":"r","x":294.5,"y":0.0229},{"s":"r","x":296.5,"y":0.0232},{"s":"r","x":298.5,"y":0.0203},{"s":"r","x":300.5,"y":0.0145},{"s":"r","x":302.5,"y":0.0083},{"s":"r","x":304.5,"y":0.0027},{"s":"r","x":307.5,"y":-0.0035},{"s":"r","x":310.5,"y":-0.0076},{"s":"r","x":314.5,"y":-0.01},{"s":"r","x":318.5,"y":-0.0104},{"s":"r","x":321.5,"y":-0.01},{"s":"r","x":324.5,"y":-0.0094},{"s":"r","x":326.5,"y":-0.0102},{"s":"r","x":329.5,"y":-0.0146},{"s":"r","x":332.5,"y":-0.0198},{"s":"r","x":335.5,"y":-0.0228},{"s":"r","x":338.5,"y":-0.0238},{"s":"r","x":341.5,"y":-0.0229},{"s":"r","x":344.5,"y":-0.0198},{"s":"r","x":348.5,"y":-0.0134},{"s":"r","x":352.5,"y":-0.0066},{"s":"r","x":356.5,"y":-0.0013},{"s":"r","x":360,"y":0.0005},
{"s":"b","x":0,"y":0},{"s":"b","x":3,"y":0.004},{"s":"b","x":6,"y":0.0064},{"s":"b","x":9,"y":0.0076},{"s":"b","x":15,"y":0.007},{"s":"b","x":20,"y":0.0055},{"s":"b","x":26,"y":0.0042},{"s":"b","x":31,"y":0.004},{"s":"b","x":37,"y":0.0055},{"s":"b","x":43,"y":0.009},{"s":"b","x":49,"y":0.014},{"s":"b","x":53,"y":0.018},{"s":"b","x":56,"y":0.0205},{"s":"b","x":58,"y":0.0212},{"s":"b","x":60,"y":0.02},{"s":"b","x":62,"y":0.0155},{"s":"b","x":64,"y":0.0098},{"s":"b","x":66,"y":0.0045},{"s":"b","x":69,"y":-0.0018},{"s":"b","x":72,"y":-0.0062},{"s":"b","x":76,"y":-0.0092},{"s":"b","x":80,"y":-0.0098},{"s":"b","x":83,"y":-0.0096},{"s":"b","x":86,"y":-0.009},{"s":"b","x":88,"y":-0.0096},{"s":"b","x":91,"y":-0.0136},{"s":"b","x":94,"y":-0.0185},{"s":"b","x":97,"y":-0.0218},{"s":"b","x":100,"y":-0.0232},{"s":"b","x":103,"y":-0.0226},{"s":"b","x":106,"y":-0.0198},{"s":"b","x":110,"y":-0.0136},{"s":"b","x":114,"y":-0.0068},{"s":"b","x":118,"y":-0.0015},{"s":"b","x":122.5,"y":0.0022},
{"s":"b","x":125.5,"y":0.004},{"s":"b","x":128.5,"y":0.0064},{"s":"b","x":131.5,"y":0.0076},{"s":"b","x":135.5,"y":0.007},{"s":"b","x":140.5,"y":0.0055},{"s":"b","x":146.5,"y":0.0042},{"s":"b","x":151.5,"y":0.004},{"s":"b","x":157.5,"y":0.0055},{"s":"b","x":163.5,"y":0.009},{"s":"b","x":169.5,"y":0.014},{"s":"b","x":173.5,"y":0.018},{"s":"b","x":176.5,"y":0.0205},{"s":"b","x":178.5,"y":0.0212},{"s":"b","x":180.5,"y":0.02},{"s":"b","x":182.5,"y":0.0155},{"s":"b","x":184.5,"y":0.0098},{"s":"b","x":186.5,"y":0.0045},{"s":"b","x":189.5,"y":-0.0018},{"s":"b","x":192.5,"y":-0.0062},{"s":"b","x":196.5,"y":-0.0092},{"s":"b","x":200.5,"y":-0.0098},{"s":"b","x":203.5,"y":-0.0096},{"s":"b","x":206.5,"y":-0.009},{"s":"b","x":208.5,"y":-0.0096},{"s":"b","x":211.5,"y":-0.0136},{"s":"b","x":214.5,"y":-0.0185},{"s":"b","x":217.5,"y":-0.0218},{"s":"b","x":220.5,"y":-0.0232},{"s":"b","x":223.5,"y":-0.0226},{"s":"b","x":226.5,"y":-0.0198},{"s":"b","x":230.5,"y":-0.0136},{"s":"b","x":234.5,"y":-0.0068},{"s":"b","x":238.5,"y":-0.0015},{"s":"b","x":243,"y":0.0022},
{"s":"b","x":246,"y":0.004},{"s":"b","x":249,"y":0.0064},{"s":"b","x":252,"y":0.0076},{"s":"b","x":256,"y":0.007},{"s":"b","x":261,"y":0.0055},{"s":"b","x":267,"y":0.0042},{"s":"b","x":272,"y":0.004},{"s":"b","x":278,"y":0.0055},{"s":"b","x":284,"y":0.009},{"s":"b","x":290,"y":0.014},{"s":"b","x":294,"y":0.018},{"s":"b","x":297,"y":0.0205},{"s":"b","x":299,"y":0.0212},{"s":"b","x":301,"y":0.02},{"s":"b","x":303,"y":0.0155},{"s":"b","x":305,"y":0.0098},{"s":"b","x":307,"y":0.0045},{"s":"b","x":310,"y":-0.0018},{"s":"b","x":313,"y":-0.0062},{"s":"b","x":317,"y":-0.0092},{"s":"b","x":321,"y":-0.0098},{"s":"b","x":324,"y":-0.0096},{"s":"b","x":327,"y":-0.009},{"s":"b","x":329,"y":-0.0096},{"s":"b","x":332,"y":-0.0136},{"s":"b","x":335,"y":-0.0185},{"s":"b","x":338,"y":-0.0218},{"s":"b","x":341,"y":-0.0232},{"s":"b","x":344,"y":-0.0226},{"s":"b","x":347,"y":-0.0198},{"s":"b","x":351,"y":-0.0136},{"s":"b","x":355,"y":-0.0068},{"s":"b","x":360,"y":-0.0008},
{"s":"g","x":0,"y":0},{"s":"g","x":3,"y":0.0045},{"s":"g","x":6,"y":0.0068},{"s":"g","x":9,"y":0.0076},{"s":"g","x":13,"y":0.0066},{"s":"g","x":18,"y":0.0053},{"s":"g","x":24,"y":0.0043},{"s":"g","x":29,"y":0.0046},{"s":"g","x":35,"y":0.0065},{"s":"g","x":41,"y":0.0103},{"s":"g","x":47,"y":0.0155},{"s":"g","x":51,"y":0.0198},{"s":"g","x":54,"y":0.0226},{"s":"g","x":56,"y":0.023},{"s":"g","x":58,"y":0.0205},{"s":"g","x":60,"y":0.015},{"s":"g","x":62,"y":0.009},{"s":"g","x":64,"y":0.0035},{"s":"g","x":67,"y":-0.0025},{"s":"g","x":70,"y":-0.0068},{"s":"g","x":74,"y":-0.0095},{"s":"g","x":78,"y":-0.01},{"s":"g","x":81,"y":-0.0097},{"s":"g","x":84,"y":-0.0091},{"s":"g","x":86,"y":-0.0098},{"s":"g","x":89,"y":-0.014},{"s":"g","x":92,"y":-0.019},{"s":"g","x":95,"y":-0.0222},{"s":"g","x":98,"y":-0.0234},{"s":"g","x":101,"y":-0.0226},{"s":"g","x":104,"y":-0.0196},{"s":"g","x":108,"y":-0.0133},{"s":"g","x":112,"y":-0.0065},{"s":"g","x":116,"y":-0.0012},{"s":"g","x":120.5,"y":0.0022},
{"s":"g","x":123.5,"y":0.0045},{"s":"g","x":126.5,"y":0.0068},{"s":"g","x":129.5,"y":0.0076},{"s":"g","x":133.5,"y":0.0066},{"s":"g","x":138.5,"y":0.0053},{"s":"g","x":144.5,"y":0.0043},{"s":"g","x":149.5,"y":0.0046},{"s":"g","x":155.5,"y":0.0065},{"s":"g","x":161.5,"y":0.0103},{"s":"g","x":167.5,"y":0.0155},{"s":"g","x":171.5,"y":0.0198},{"s":"g","x":174.5,"y":0.0226},{"s":"g","x":176.5,"y":0.023},{"s":"g","x":178.5,"y":0.0205},{"s":"g","x":180.5,"y":0.015},{"s":"g","x":182.5,"y":0.009},{"s":"g","x":184.5,"y":0.0035},{"s":"g","x":187.5,"y":-0.0025},{"s":"g","x":190.5,"y":-0.0068},{"s":"g","x":194.5,"y":-0.0095},{"s":"g","x":198.5,"y":-0.01},{"s":"g","x":201.5,"y":-0.0097},{"s":"g","x":204.5,"y":-0.0091},{"s":"g","x":206.5,"y":-0.0098},{"s":"g","x":209.5,"y":-0.014},{"s":"g","x":212.5,"y":-0.019},{"s":"g","x":215.5,"y":-0.0222},{"s":"g","x":218.5,"y":-0.0234},{"s":"g","x":221.5,"y":-0.0226},{"s":"g","x":224.5,"y":-0.0196},{"s":"g","x":228.5,"y":-0.0133},{"s":"g","x":232.5,"y":-0.0065},{"s":"g","x":236.5,"y":-0.0012},{"s":"g","x":241,"y":0.0022},
{"s":"g","x":244,"y":0.0045},{"s":"g","x":247,"y":0.0068},{"s":"g","x":250,"y":0.0076},{"s":"g","x":254,"y":0.0066},{"s":"g","x":259,"y":0.0053},{"s":"g","x":265,"y":0.0043},{"s":"g","x":270,"y":0.0046},{"s":"g","x":276,"y":0.0065},{"s":"g","x":282,"y":0.0103},{"s":"g","x":288,"y":0.0155},{"s":"g","x":292,"y":0.0198},{"s":"g","x":295,"y":0.0226},{"s":"g","x":297,"y":0.023},{"s":"g","x":299,"y":0.0205},{"s":"g","x":301,"y":0.015},{"s":"g","x":303,"y":0.009},{"s":"g","x":305,"y":0.0035},{"s":"g","x":308,"y":-0.0025},{"s":"g","x":311,"y":-0.0068},{"s":"g","x":315,"y":-0.0095},{"s":"g","x":319,"y":-0.01},{"s":"g","x":322,"y":-0.0097},{"s":"g","x":325,"y":-0.0091},{"s":"g","x":327,"y":-0.0098},{"s":"g","x":330,"y":-0.014},{"s":"g","x":333,"y":-0.019},{"s":"g","x":336,"y":-0.0222},{"s":"g","x":339,"y":-0.0234},{"s":"g","x":342,"y":-0.0226},{"s":"g","x":345,"y":-0.0196},{"s":"g","x":349,"y":-0.0133},{"s":"g","x":353,"y":-0.0065},{"s":"g","x":357,"y":-0.0012},{"s":"g","x":360,"y":0}
]
},
"columns":2,
"spacing":{"column":17,"row":0},
"resolve":{"scale":{"x":"independent","y":"independent","color":"independent"}},
"concat":[
{"title":{"text":"(a)","offset":2,"dx":-16},"width":311,"height":139,"data":{"name":"a"},"mark":{"type":"line"},
 "encoding":{
  "x":{"field":"x","type":"quantitative","scale":{"domain":[-1,361],"nice":false,"zero":false},"axis":{"values":[0,60,120,180,240,300,360],"title":"Azimuthal Angle (°)","format":"d"}},
  "y":{"field":"y","type":"quantitative","scale":{"domain":[-0.0238,0.0279],"nice":false,"zero":false},"axis":{"values":[-0.02,-0.015,-0.01,-0.005,0,0.005,0.01,0.015,0.02,0.025],"format":".3f","title":"Instantaneous Cₘ"}},
  "color":{"field":"s","type":"nominal","scale":{"domain":["k","r","b","g"],"range":["#000000","#ff1a1a","#3a6cc6","#2ecc5a"]},"legend":{"orient":"top-right","offset":4,"labelExpr":"datum.value=='k'?'NACA 0015 B-1':datum.value=='r'?'0.2c, 120° GF  B-1':datum.value=='b'?'0.25c, 90° GF  B-1':'0.25c, 120° GF  B-1'"}}
 }},
{"title":{"text":"(b)","offset":2,"dx":-16},"width":311,"height":139,"data":{"name":"b"},"mark":{"type":"line"},
 "encoding":{
  "x":{"field":"x","type":"quantitative","scale":{"domain":[-1,361],"nice":false,"zero":false},"axis":{"values":[0,60,120,180,240,300,360],"title":"Azimuthal Angle (°)","format":"d"}},
  "y":{"field":"y","type":"quantitative","scale":{"domain":[-0.0237,0.029],"nice":false,"zero":false},"axis":{"values":[-0.018,-0.012,-0.006,0,0.006,0.012,0.018,0.024],"format":".3f","title":"Instantaneous Cₘ"}},
  "color":{"field":"s","type":"nominal","scale":{"domain":["k","r","b","g"],"range":["#000000","#ff1a1a","#3a6cc6","#2ecc5a"]},"legend":{"orient":"top-right","offset":4,"labelExpr":"datum.value=='k'?'NACA 0015 B-2':datum.value=='r'?'0.2c, 120° GF  B-2':datum.value=='b'?'0.25c, 90° GF  B-2':'0.25c, 120° GF  B-2'"}}
 }},
{"title":{"text":"(c)","offset":3,"dx":-16},"width":311,"height":139,"data":{"name":"c"},"mark":{"type":"line"},
 "encoding":{
  "x":{"field":"x","type":"quantitative","scale":{"domain":[-1,361],"nice":false,"zero":false},"axis":{"values":[0,60,120,180,240,300,360],"title":"Azimuthal Angle (°)","format":"d"}},
  "y":{"field":"y","type":"quantitative","scale":{"domain":[-0.024,0.03],"nice":false,"zero":false},"axis":{"values":[-0.024,-0.018,-0.012,-0.006,0,0.006,0.012,0.018,0.024,0.03],"format":".3f","title":"Instantaneous Cₘ"}},
  "color":{"field":"s","type":"nominal","scale":{"domain":["k","r","b","g"],"range":["#000000","#ff1a1a","#3a6cc6","#2ecc5a"]},"legend":{"orient":"top-right","offset":4,"labelExpr":"datum.value=='k'?'NACA 0015 B-3':datum.value=='r'?'0.2c, 120° GF  B-3':datum.value=='b'?'0.25c, 90° GF  B-3':'0.25c, 120° GF  B-3'"}}
 }},
{"title":{"text":"(d)","offset":3,"dx":-16},"width":311,"height":139,"data":{"name":"d"},"mark":{"type":"line"},
 "encoding":{
  "x":{"field":"x","type":"quantitative","scale":{"domain":[-1,361],"nice":false,"zero":false},"axis":{"values":[0,60,120,180,240,300,360],"title":"Azimuthal Angle (°)","format":"d"}},
  "y":{"field":"y","type":"quantitative","scale":{"domain":[-0.0271,0.0302],"nice":false,"zero":false},"axis":{"values":[-0.024,-0.016,-0.008,0,0.008,0.016,0.024],"format":".3f","title":"Instantaneous Cₘ"}},
  "color":{"field":"s","type":"nominal","scale":{"domain":["k","r","b","g"],"range":["#000000","#ff1a1a","#3a6cc6","#2ecc5a"]},"legend":{"orient":"top-left","direction":"horizontal","offset":1,"columnPadding":2,"symbolType":"M-2.3,0H2.3","labelExpr":"datum.value=='k'?'NACA 0015':datum.value=='r'?'0.2c, 120° GF B-3':datum.value=='b'?'0.25c, 90 B-3':'0.25c, 120° GF B-3'"}}
 }}
]
}
